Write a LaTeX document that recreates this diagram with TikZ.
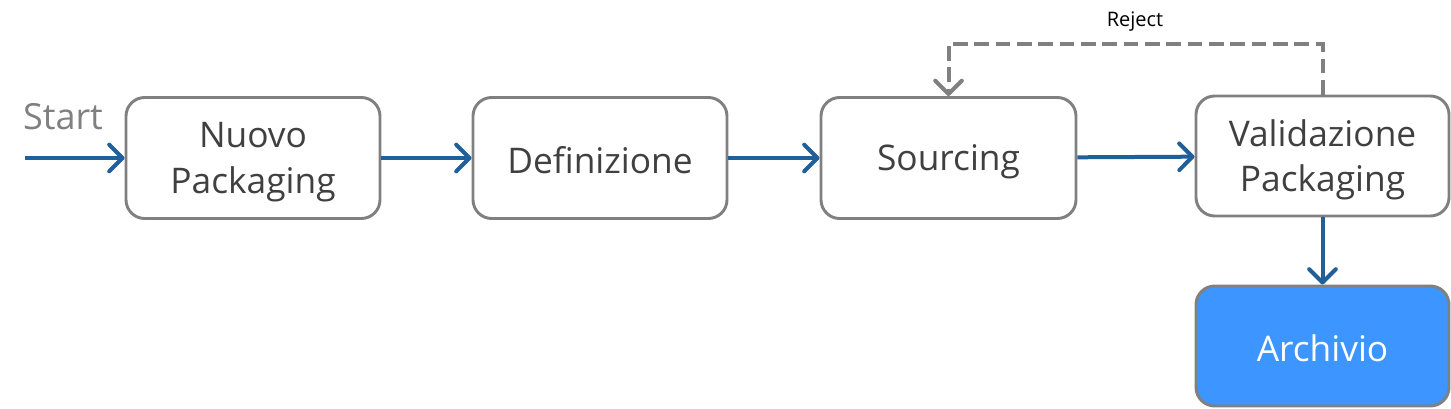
\documentclass[tikz,border=0pt]{standalone}
\usepackage{fontspec}
\setmainfont{Open Sans}
\usetikzlibrary{arrows.meta}
\definecolor{boxgray}{RGB}{128,128,128}
\definecolor{txtgray}{RGB}{64,64,64}
\definecolor{flowblue}{RGB}{33,95,154}
\definecolor{archblue}{RGB}{61,149,255}
\tikzset{
  procbox/.style={draw=boxgray, line width=2.2pt, rounded corners=14pt, fill=white,
    minimum width=190.5pt, minimum height=90.75pt, inner sep=0pt},
  boxtext/.style={align=center, text=txtgray, font=\fontsize{26.5}{34}\selectfont, inner sep=0pt},
  flow/.style={draw=flowblue, line width=3pt, -{Straight Barb[length=10pt,width=20pt,line width=3pt,round]}},
  rejflow/.style={draw=boxgray, line width=3pt, dash pattern=on 11pt off 5pt,
    -{Straight Barb[length=10pt,width=20pt,line width=3pt,round]}}
}
\begin{document}
\begin{tikzpicture}[x=0.75pt,y=-0.75pt]
\useasboundingbox (0,0) rectangle (1451,409);
\node[procbox] (n1) at (253,158) {};
\node[procbox] (n2) at (600,158) {};
\node[procbox, minimum width=191.25pt] (n3) at (948.5,158) {};
\node[procbox, minimum width=189.75pt, minimum height=90pt] (n4) at (1322.5,156) {};
\node[procbox, minimum width=189.75pt, minimum height=90pt, fill=archblue] (n5) at (1322.5,346) {};
\node[boxtext] (t1) at ([yshift=-3pt]n1.center) {Nuovo\\Packaging};
\node[boxtext] (t2) at ([yshift=-1.5pt]n2.center) {Definizione};
\node[boxtext] (t3) at ([yshift=-3pt]n3.center) {Sourcing};
\node[boxtext] (t4) at ([yshift=-3pt]n4.center) {Validazione\\Packaging};
\node[boxtext, text=white] (t5) at ([yshift=-1.5pt]n5.center) {Archivio};
\coordinate (s) at (25,158);
\node[text=boxgray, font=\fontsize{27}{32}\selectfont, inner sep=0pt] (start) at (63,117) {Start};
\coordinate (rtop) at (1135,44);
\node[text=black, font=\fontsize{15}{18}\selectfont, inner sep=0pt] (rej) at (1135,22) {Reject};
\draw[flow] (s) -- (n1);
\draw[flow] (n1) -- (n2);
\draw[flow] (n2) -- (n3);
\draw[flow] (n3) -- (n4);
\draw[flow] (n4) -- (n5);
\draw[rejflow] (n4.north) |- (rtop) -| (n3.north);
\end{tikzpicture}
\end{document}
